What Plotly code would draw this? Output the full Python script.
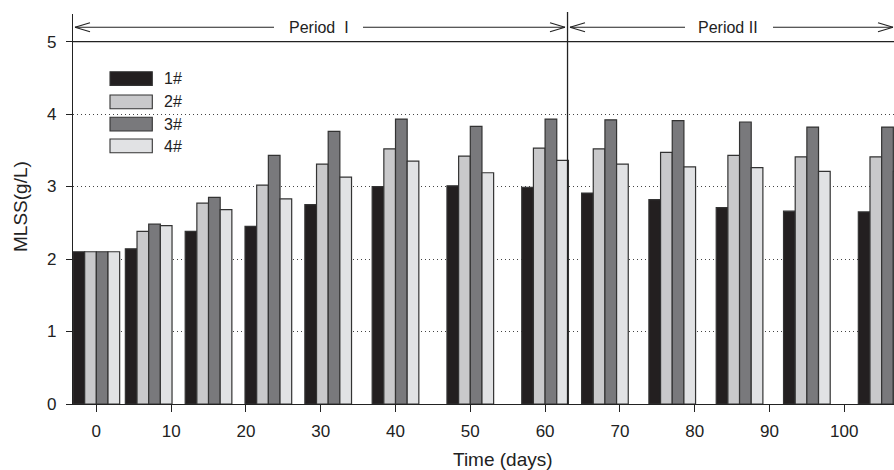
import plotly.graph_objects as go

# ---- data ----
days = [0, 7, 15, 23, 31, 40, 50, 60, 68, 77, 86, 95, 105]
r1 = [2.10, 2.14, 2.38, 2.45, 2.75, 3.00, 3.01, 2.99, 2.91, 2.82, 2.71, 2.66, 2.65]
r2 = [2.10, 2.38, 2.77, 3.02, 3.31, 3.52, 3.42, 3.53, 3.52, 3.47, 3.43, 3.41, 3.41]
r3 = [2.10, 2.48, 2.85, 3.43, 3.76, 3.93, 3.83, 3.93, 3.92, 3.91, 3.89, 3.82, 3.82]
r4 = [2.10, 2.46, 2.68, 2.83, 3.13, 3.35, 3.19, 3.36, 3.31, 3.27, 3.26, 3.21, 3.21]
series_names = ["1#", "2#", "3#", "4#"]
series_vals = [r1, r2, r3, r4]
colors = ["#231f20", "#c9c9cb", "#79797c", "#e1e2e4"]
period_split = 63
y_ticks = [0, 1, 2, 3, 4, 5]
x_ticks = list(range(0, 101, 10))

# ---- geometry ----
W, H = 894, 470
ML, MR, MT, MB = 73, 0, 14, 66
PW, PH = W - ML - MR, H - MT - MB
XR = [-3.12, 106.65]
YR = [0, 5.38]
BW = 1.56
FONT = "Liberation Sans, Arial, Helvetica, sans-serif"
TXT = "#222222"


def px(x):
    return (x - ML) / PW


def py(y):
    return (H - MB - y) / PH


fig = go.Figure()
for i, (name, vals, c) in enumerate(zip(series_names, series_vals, colors)):
    fig.add_trace(go.Bar(
        x=days, y=vals, name=name, width=BW, offset=-2 * BW + i * BW,
        marker=dict(color=c, line=dict(color="#333333", width=1.2)),
        showlegend=False,
    ))

shapes = []
# solid line at y=5
shapes.append(dict(type="line", xref="paper", yref="y", x0=0, x1=1, y0=5, y1=5,
                   line=dict(color="#222222", width=1.3)))
# vertical period divider
shapes.append(dict(type="line", xref="x", yref="paper", x0=period_split, x1=period_split,
                   y0=0, y1=py(12), line=dict(color="#222222", width=1.3)))


def seg(x0, y0, x1, y1):
    shapes.append(dict(type="line", xref="paper", yref="paper",
                       x0=px(x0), y0=py(y0), x1=px(x1), y1=py(y1),
                       line=dict(color="#222222", width=1.1)))


AY = 27.3
def chevron(tip, direction):
    back = tip - 15 * direction
    seg(back, AY - 4.5, tip, AY)
    seg(back, AY + 4.5, tip, AY)


# Period I arrow
seg(75, AY, 274, AY)
seg(363, AY, 565, AY)
chevron(75, -1)
chevron(565, 1)
# Period II arrow
seg(570, AY, 685, AY)
seg(773, AY, 893, AY)
chevron(570, -1)
chevron(893, 1)


def ann(text, x, y, size, **kw):
    d = dict(text=text, x=px(x), y=py(y), xref="paper", yref="paper",
             xanchor=kw.pop("xanchor", "center"), yanchor="middle",
             showarrow=False, font=dict(size=size, color=TXT, family=FONT))
    d.update(kw)
    return d


annotations = [
    ann("Period\u00a0\u00a0I", 318.7, AY, 16),
    ann("Period II", 727.5, AY, 16),
    ann("Time (days)", 503, 459, 19),
    ann("MLSS(g/L)", 20, 207, 19, textangle=-90),
]

# custom legend
leg_tops = [71.7, 95.0, 117.3, 139.0]
for name, c, top in zip(series_names, colors, leg_tops):
    shapes.append(dict(type="rect", xref="paper", yref="paper",
                       x0=px(110), x1=px(152.3), y0=py(top + 13.7), y1=py(top),
                       fillcolor=c, line=dict(color="#333333", width=1.1)))
    annotations.append(ann(name, 162, top + 7, 16, xanchor="left"))

fig.update_layout(
    width=W, height=H,
    margin=dict(l=ML, r=MR, t=MT, b=MB, pad=0),
    paper_bgcolor="white", plot_bgcolor="white",
    barmode="overlay",
    shapes=shapes, annotations=annotations,
    font=dict(family=FONT, color=TXT),
    xaxis=dict(range=XR, tickvals=x_ticks, ticks="outside", ticklen=7, tickwidth=1,
               tickcolor="#222222", showline=True, linecolor="#222222", linewidth=1.3,
               showgrid=False, zeroline=False, tickfont=dict(size=17, color=TXT),
               ticklabelstandoff=4),
    yaxis=dict(range=YR, tickvals=y_ticks, ticks="outside", ticklen=6, tickwidth=1,
               tickcolor="#222222", showline=True, linecolor="#222222", linewidth=1.3,
               showgrid=True, gridcolor="#444444", griddash="1px,3px", gridwidth=1,
               zeroline=False, tickfont=dict(size=17, color=TXT), ticklabelstandoff=6),
)

fig.write_html("out.html")
